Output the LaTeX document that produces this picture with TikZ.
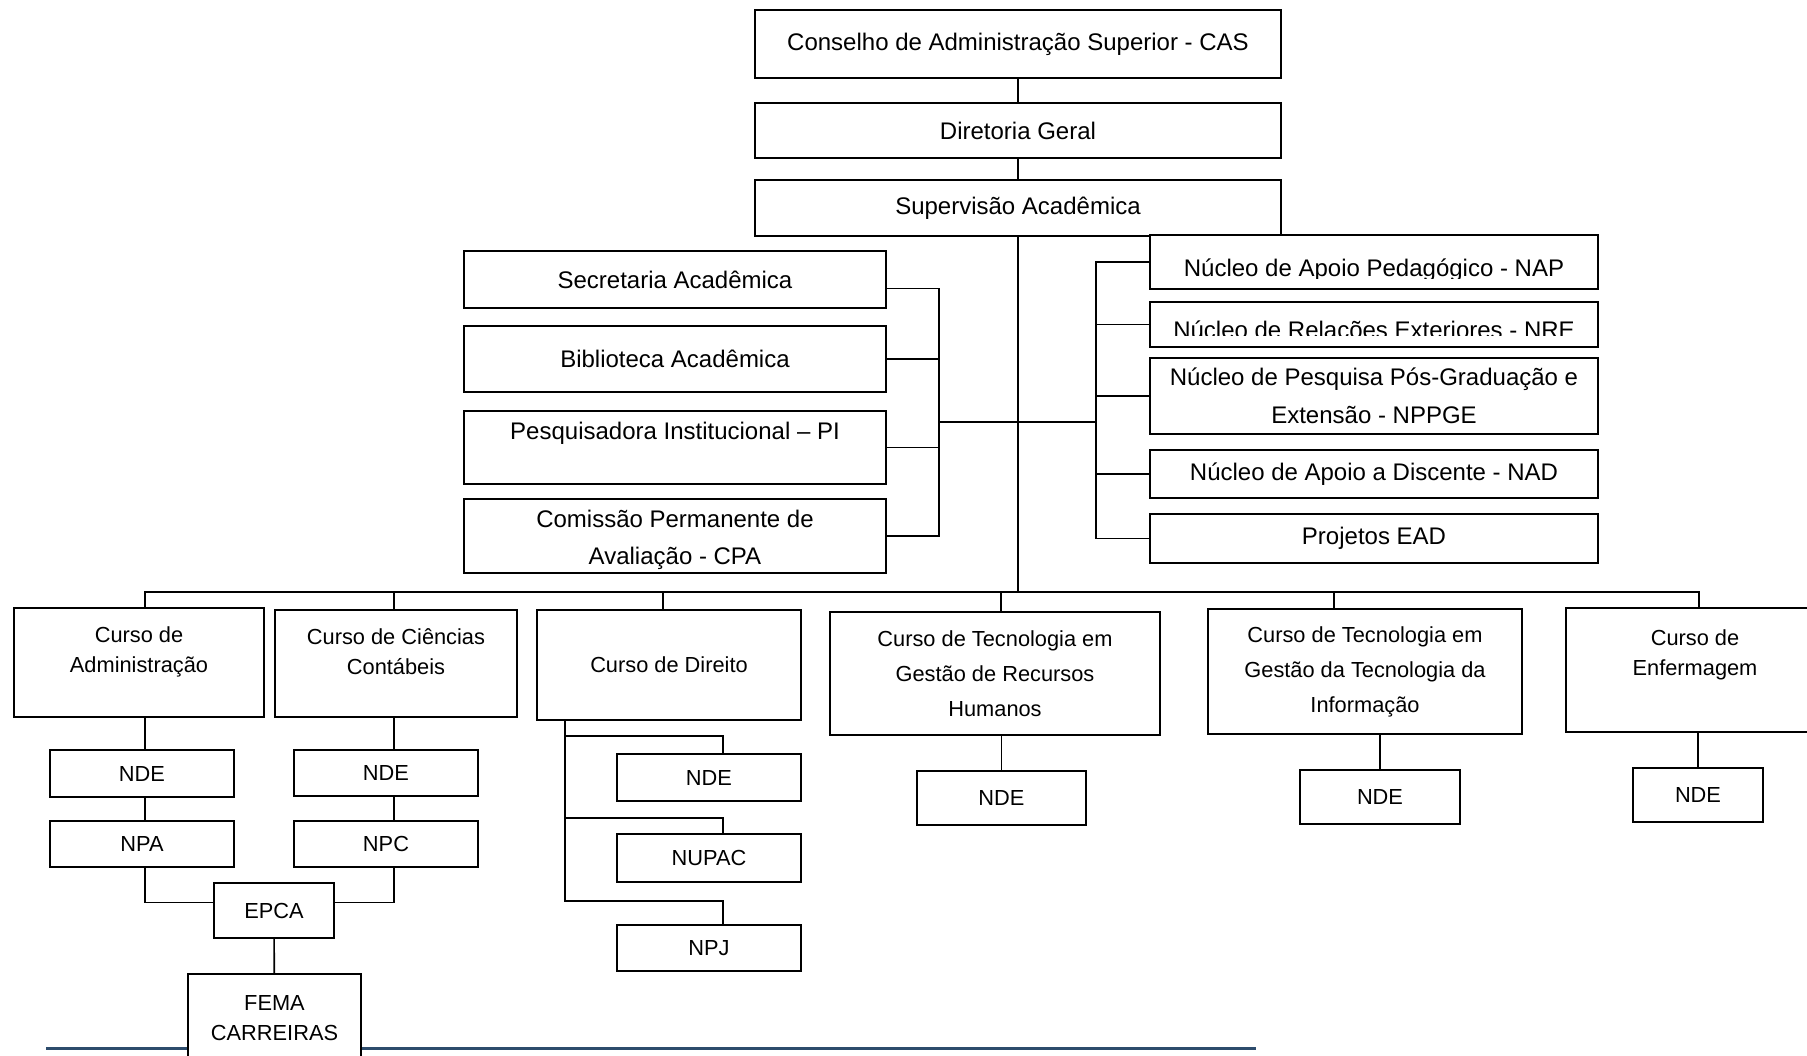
\documentclass[tikz,border=0pt]{standalone}
\usepackage{fontspec}
\setmainfont{Liberation Sans}
\usepackage{tikz}
\usetikzlibrary{
	positioning
}
\definecolor{footrule}{RGB}{45,76,108}
\newcommand{\bigtext}{\fontsize{24}{37}\selectfont}
\newcommand{\smalltext}{\fontsize{21.8}{30}\selectfont}
\newcommand{\tallrows}{\fontsize{21.8}{35}\selectfont}

\tikzset{
	unit/.style n args={2}{draw, line width=2pt, fill=white, inner sep=0pt,
		minimum width=#1pt, minimum height=#2pt, align=center, font=\bigtext},
	course/.style n args={2}{unit={#1}{#2}, font=\smalltext},
	caption/.style={align=center, font=\smalltext},
	link/.style={line width=1.6pt}
}

\begin{document}
\begin{tikzpicture}[x=1pt, y=-1pt]
	\useasboundingbox (0,0) rectangle (1807,1056);
	\clip (0,0) rectangle (1807,1056);

	\draw[footrule, line width=3pt] (46,1048) -- (1256,1048);

	% direction
	\node[unit={526}{68}]                   (cas) at (1018,44) {Conselho de Administração Superior - CAS};
	\node[unit={526}{55}, below=23pt of cas] (dir) {Diretoria Geral};
	\node[unit={526}{56}, below=20pt of dir] (sup) {Supervisão Acadêmica};

	% support on the left
	\node[unit={422}{57}] (sec) at (675,279.5) {Secretaria Acadêmica};
	\node[unit={422}{66}] (bib) at (675,359)   {Biblioteca Acadêmica};
	\node[unit={422}{73}, label={[caption, font=\bigtext, yshift=14.5pt]center:Pesquisadora Institucional – PI}]
	                      (pi)  at (675,447.5) {};
	\node[unit={422}{74}, label={[caption, font=\bigtext, yshift=-4pt]center:{Comissão Permanente de\\Avaliação - CPA}}]
	                      (cpa) at (675,536)   {};

	% nuclei on the right
	\node[unit={448}{54}] (nap)   at (1374,262)   {};
	\node[unit={448}{45}] (nre)   at (1374,324.5) {};
	\node[unit={448}{76}, font=\fontsize{24}{38.5}\selectfont]
	                      (nppge) at (1374,396)   {Núcleo de Pesquisa Pós-Graduação e\\Extensão - NPPGE};
	\node[unit={448}{48}] (nad)   at (1374,474)   {Núcleo de Apoio a Discente - NAD};
	\node[unit={448}{49}] (ead)   at (1374,538.5) {Projetos EAD};

	\begin{scope}
		\clip (nap.north west) rectangle ([yshift=11pt]nap.south east);
		\node[anchor=base, font=\bigtext] (napT) at ([yshift=13.5pt]nap.south) {Núcleo de Apoio Pedagógico - NAP};
	\end{scope}
	\begin{scope}
		\clip (nre.north west) rectangle ([yshift=12.5pt]nre.south east);
		\node[anchor=base, font=\bigtext] (nreT) at ([yshift=9.5pt]nre.south) {Núcleo de Relações Exteriores - NRE};
	\end{scope}

	\coordinate (lbus) at (939,422);
	\coordinate (rbus) at (1096,422);
	\coordinate (hub)  at (1018,592);

	\draw[link] (cas) -- (dir);
	\draw[link] (dir) -- (sup);
	\draw[link] (sup) -- (hub);
	\draw[link] (lbus) -- (rbus);
	\draw[link] ([yshift=-9pt]sec.east) -| (lbus);
	\foreach \n in {bib,pi,cpa}
		\draw[link] (\n.east) -| (lbus);
	\foreach \n in {nap,nre,nppge,nad,ead}
		\draw[link] (\n.west) -| (rbus);

	% courses
	\node[course={250}{109}, label={[caption, yshift=11pt]center:{Curso de\\Administração}}]
	                         (adm)  at (139,662.5) {};
	\node[course={242}{107}, label={[caption, yshift=12pt]center:{Curso de Ciências\\Contábeis}}]
	                         (cont) at (396,663.5) {};
	\node[course={264}{110}] (dirc) at (669,665)   {Curso de Direito};
	\node[course={330}{123}, font=\tallrows]
	                         (rh)   at (995,673.5) {Curso de Tecnologia em\\Gestão de Recursos\\Humanos};
	\node[course={314}{125}, font=\tallrows]
	                         (ti)   at (1365,671.5) {Curso de Tecnologia em\\Gestão da Tecnologia da\\Informação};
	\node[course={258}{124}, label={[caption, yshift=15pt]center:{Curso de\\Enfermagem}}]
	                         (enf)  at (1695,670)  {};

	\draw[link] ([xshift=6pt]adm.north)   |- (hub);
	\draw[link] ([xshift=-2pt]cont.north) |- (hub);
	\draw[link] ([xshift=-6pt]dirc.north) |- (hub);
	\draw[link] ([xshift=6pt]rh.north)    |- (hub);
	\draw[link] ([xshift=-31pt]ti.north)  |- (hub);
	\draw[link] ([xshift=4pt]enf.north)   |- (hub);

	% administração and ciências contábeis
	\node[course={184}{47}]                   (ndeA) at (142,773.5) {NDE};
	\node[course={184}{46}, below=22pt of ndeA] (npa)  {NPA};
	\node[course={184}{46}]                   (ndeC) at (386,773)   {NDE};
	\node[course={184}{46}, below=23pt of ndeC] (npc)  {NPC};
	\node[course={120}{55}]                   (epca) at (274,910.5) {EPCA};
	\node[course={173}{88}]                   (fema) at (274.5,1018) {FEMA\\CARREIRAS};

	\draw[link] ([xshift=3pt]ndeA.north |- adm.south) -- ([xshift=3pt]ndeA.north);
	\draw[link] ([xshift=3pt]ndeA.south) -- ([xshift=3pt]npa.north);
	\draw[link] ([xshift=3pt]npa.south) |- ([yshift=8pt]epca.west);
	\draw[link] ([xshift=8pt]ndeC.north |- cont.south) -- ([xshift=8pt]ndeC.north);
	\draw[link] ([xshift=8pt]ndeC.south) -- ([xshift=8pt]npc.north);
	\draw[link] ([xshift=8pt]npc.south) |- ([yshift=8pt]epca.east);
	\draw[link] (epca) -- (fema);

	% direito
	\node[course={184}{47}] (ndeD)  at (709,777.5) {NDE};
	\node[course={184}{48}] (nupac) at (709,858)   {NUPAC};
	\node[course={184}{46}] (npj)   at (709,948)   {NPJ};

	\coordinate (dtrunk) at ([xshift=-104pt]dirc.south);
	\draw[link] (dtrunk) |- ([xshift=14pt,yshift=17pt]ndeD.north)  -- ([xshift=14pt]ndeD.north);
	\draw[link] (dtrunk) |- ([xshift=14pt,yshift=15pt]nupac.north) -- ([xshift=14pt]nupac.north);
	\draw[link] (dtrunk) |- ([xshift=14pt,yshift=23pt]npj.north)   -- ([xshift=14pt]npj.north);

	% the other courses
	\node[course={169}{54}] (ndeR) at (1001.5,797.5) {NDE};
	\node[course={160}{54}] (ndeT) at (1380,797)     {NDE};
	\node[course={130}{54}] (ndeE) at (1698,795)     {NDE};

	\draw[link] (ndeR.north |- rh.south)  -- (ndeR);
	\draw[link] (ndeT.north |- ti.south)  -- (ndeT);
	\draw[link] (ndeE.north |- enf.south) -- (ndeE);
\end{tikzpicture}
\end{document}
